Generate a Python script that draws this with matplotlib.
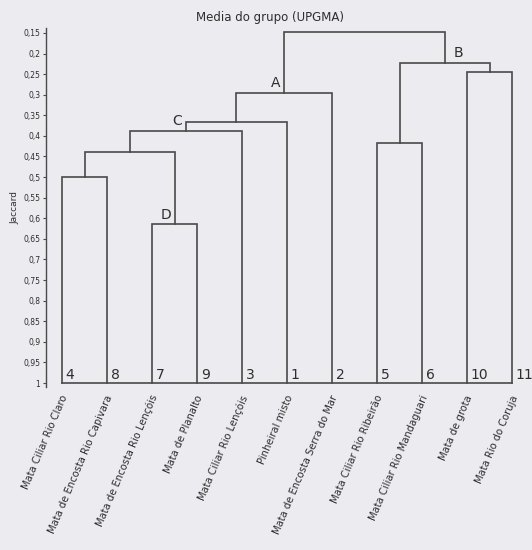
import matplotlib
matplotlib.use("Agg")
import matplotlib.pyplot as plt
import numpy as np

# ---- data ----
leaf_numbers = ["4", "8", "7", "9", "3", "1", "2", "5", "6", "10", "11"]
leaf_names = [
    "Mata Ciliar Rio Claro",
    "Mata de Encosta Rio Capivara",
    "Mata de Encosta Rio Lençóis",
    "Mata de Planalto",
    "Mata Ciliar Rio Lençóis",
    "Pinheiral misto",
    "Mata de Encosta Serra do Mar",
    "Mata Ciliar Rio Ribeirão",
    "Mata Ciliar Rio Mandaguari",
    "Mata de grota",
    "Mata Rio do Coruja",
]
# merges: (cluster a, cluster b, Jaccard similarity); ids < 11 are leaves
merge_a = [0, 2, 11, 13, 14, 15, 7, 9, 17, 16]
merge_b = [1, 3, 12, 4, 5, 6, 8, 10, 18, 19]
merge_h = [0.50, 0.615, 0.44, 0.388, 0.366, 0.296, 0.417, 0.245, 0.223, 0.148]
group_labels = {12: "D", 14: "C", 16: "A", 19: "B"}
yticks = [0.15, 0.2, 0.25, 0.3, 0.35, 0.4, 0.45, 0.5, 0.55, 0.6, 0.65, 0.7,
          0.75, 0.8, 0.85, 0.9, 0.95, 1.0]
ytick_labels = ["0,15", "0,2", "0,25", "0,3", "0,35", "0,4", "0,45", "0,5",
                "0,55", "0,6", "0,65", "0,7", "0,75", "0,8", "0,85", "0,9",
                "0,95", "1"]

bg = "#ebebf0"
lc = "#4a4a4a"
tc = "#2e2e2e"

fig = plt.figure(figsize=(5.32, 5.5), dpi=100, facecolor=bg)
ax = fig.add_axes([46 / 532, 1 - 387 / 550, 1 - 46 / 532, (387 - 28) / 550])
ax.set_facecolor(bg)

n = len(leaf_numbers)
pos = {i: float(i) for i in range(n)}
hgt = {i: 1.0 for i in range(n)}
for k, (a, b, h) in enumerate(zip(merge_a, merge_b, merge_h)):
    cid = n + k
    xa, xb = pos[a], pos[b]
    ax.plot([xa, xa, xb, xb], [hgt[a], h, h, hgt[b]], color=lc, lw=1.2,
            solid_joinstyle="miter")
    pos[cid] = (xa + xb) / 2
    hgt[cid] = h
    if cid in group_labels:
        dx = 10 if group_labels[cid] == "B" else -6
        ax.annotate(group_labels[cid], (pos[cid], h), xytext=(dx, 2),
                    textcoords="offset points", ha="center", va="bottom",
                    fontsize=10, color=tc)

# baseline
ax.plot([0, n - 1], [1.0, 1.0], color=lc, lw=1.2)

for i, (num, name) in enumerate(zip(leaf_numbers, leaf_names)):
    ax.text(i + 0.08, 0.997, num, ha="left", va="bottom", fontsize=10, color=tc)
    ax.annotate(name, (i, 1.0), xytext=(2, -9), textcoords="offset points",
                rotation=67, rotation_mode="anchor", ha="right", va="center",
                fontsize=7.2, color=tc, annotation_clip=False)

ax.set_xlim(-0.356, 10.44)
ax.set_ylim(1.0097, 0.138)
ax.set_yticks(yticks)
ax.set_yticklabels(ytick_labels, fontsize=5.5, color=tc)
ax.tick_params(axis="y", length=2, width=0.8, color=lc, pad=2)
ax.set_xticks([])
for s in ["top", "right", "bottom"]:
    ax.spines[s].set_visible(False)
ax.spines["left"].set_color(lc)
ax.spines["left"].set_linewidth(1.0)
ax.set_ylabel("Jaccard", fontsize=6.5, color=tc, labelpad=3)

fig.text(270 / 532, 1 - 18 / 550, "Media do grupo (UPGMA)", ha="center",
         va="center", fontsize=8.5, color=tc)

fig.savefig("out.png", dpi=100, facecolor=bg)
